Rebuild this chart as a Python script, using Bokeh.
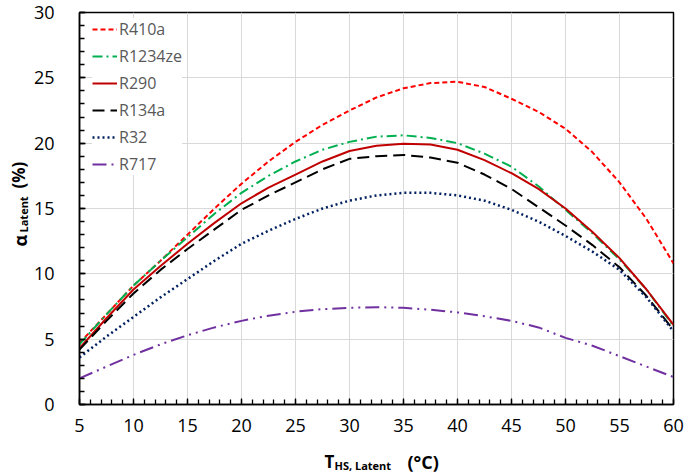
import math
from bokeh.plotting import figure
from bokeh.layouts import row, column
from bokeh.models import Label, Legend, LegendItem, FixedTicker, ColumnDataSource, Range1d
from bokeh.embed import file_html
from bokeh.resources import INLINE

T = [5, 7.5, 10, 12.5, 15, 17.5, 20, 22.5, 25, 27.5, 30, 32.5, 35, 37.5, 40,
     42.5, 45, 47.5, 50, 52.5, 55, 57.5, 60]

R410a = [4.7, 6.9, 9.1, 11.0, 13.0, 15.0, 16.9, 18.6, 20.1, 21.4, 22.5, 23.5, 24.2,
         24.6, 24.7, 24.3, 23.4, 22.4, 21.1, 19.3, 17.0, 14.2, 10.8]
R1234ze = [4.6, 6.9, 9.1, 11.0, 12.8, 14.6, 16.2, 17.5, 18.6, 19.5, 20.1, 20.5, 20.6,
           20.4, 20.0, 19.2, 18.2, 16.7, 14.9, 13.1, 11.1, 8.8, 6.0]
R290 = [4.3, 6.6, 8.8, 10.6, 12.3, 13.9, 15.4, 16.6, 17.6, 18.6, 19.4, 19.8, 19.95,
        19.9, 19.5, 18.7, 17.7, 16.5, 15.0, 13.2, 11.2, 8.8, 6.1]
R134a = [4.2, 6.4, 8.5, 10.3, 11.9, 13.4, 14.9, 16.0, 17.0, 18.0, 18.8, 19.0, 19.1,
         18.9, 18.5, 17.6, 16.5, 15.1, 13.7, 12.2, 10.5, 8.3, 5.7]
R32 = [3.6, 5.2, 6.7, 8.2, 9.6, 11.0, 12.3, 13.3, 14.2, 15.0, 15.6, 16.0, 16.2,
       16.2, 16.0, 15.6, 14.9, 14.0, 12.9, 11.7, 10.3, 8.2, 5.6]
R717 = [2.0, 2.9, 3.8, 4.6, 5.3, 5.9, 6.4, 6.8, 7.1, 7.3, 7.4, 7.45, 7.4,
        7.25, 7.05, 6.75, 6.4, 5.9, 5.1, 4.5, 3.7, 2.9, 2.1]

names = ["R410a", "R1234ze", "R290", "R134a", "R32", "R717"]
series = [R410a, R1234ze, R290, R134a, R32, R717]
colors = ["#FF0000", "#00B050", "#C00000", "#000000", "#002060", "#7030A0"]
dashes = ["5 3", "10 4 2 4", "solid", "12 6", "2 3", "14 5 2 5 2 5"]
widths = [2, 2, 2, 2, 2.5, 2]

x_ticks = [5, 10, 15, 20, 25, 30, 35, 40, 45, 50, 55, 60]
y_ticks = [0, 5, 10, 15, 20, 25, 30]

FONT = "Open Sans"

LEFT_W = 30
MAIN_H = 443
TOP = 12
FRAME_BOTTOM = 404  # page y of the plot frame's bottom edge

p = figure(width=685 - LEFT_W, height=MAIN_H, x_range=(5, 60), y_range=(0, 30),
           output_backend="svg", toolbar_location=None,
           min_border_left=74 - LEFT_W, min_border_right=12, min_border_top=TOP,
           min_border_bottom=MAIN_H - FRAME_BOTTOM)
p.background_fill_color = "white"
p.border_fill_color = "white"
p.outline_line_color = "#000000"
p.outline_line_width = 1.5

for ax, ticks in ((p.xaxis[0], x_ticks), (p.yaxis[0], y_ticks)):
    ax.ticker = FixedTicker(ticks=ticks, minor_ticks=list(range(0, 61)))
    ax.axis_line_color = "#000000"
    ax.axis_line_width = 1.5
    ax.major_tick_in = 6
    ax.major_tick_out = 0
    ax.minor_tick_in = 5
    ax.minor_tick_out = 0
    ax.major_tick_line_color = "#000000"
    ax.minor_tick_line_color = "#000000"
    ax.major_tick_line_width = 1.3
    ax.minor_tick_line_width = 1.3
    ax.major_label_text_font = FONT
    ax.major_label_text_font_size = "18px"
    ax.major_label_text_color = "#000000"
p.xaxis[0].major_label_standoff = 14
p.yaxis[0].major_label_standoff = 25

p.xgrid.ticker = FixedTicker(ticks=x_ticks)
p.ygrid.ticker = FixedTicker(ticks=y_ticks)
p.xgrid.grid_line_color = "#D9D9D9"
p.ygrid.grid_line_color = "#D9D9D9"

items = []
for n, s, c, d, w in zip(names, series, colors, dashes, widths):
    src = ColumnDataSource(dict(x=T, y=s))
    r = p.line("x", "y", source=src, line_color=c, line_dash=d, line_width=w)
    items.append(LegendItem(label=n, renderers=[r]))

legend = Legend(items=items, location=(13, 229), orientation="vertical",
                background_fill_color="white", background_fill_alpha=1.0,
                border_line_color=None, padding=2, margin=0, spacing=5,
                glyph_width=25, glyph_height=20, label_height=20, label_standoff=2,
                label_text_font=FONT, label_text_font_size="16px",
                label_text_color="#595959")
p.add_layout(legend, "center")


def blank(w, h, top=0, bottom=0):
    f = figure(width=w, height=h, x_range=Range1d(0, 1), y_range=Range1d(0, 1),
               output_backend="svg", toolbar_location=None,
               x_axis_type=None, y_axis_type=None,
               min_border=0, min_border_left=0, min_border_right=0,
               min_border_top=top, min_border_bottom=bottom)
    f.outline_line_color = None
    f.grid.visible = False
    f.background_fill_color = "white"
    f.border_fill_color = "white"
    return f


def lab(fig, text, x, y, size, angle=0.0):
    fig.add_layout(Label(x=x, y=y, x_units="screen", y_units="screen", text=text,
                         text_font=FONT, text_font_size=size, text_font_style="bold",
                         text_color="#000000", text_baseline="alphabetic",
                         text_align="left", angle=angle))


# y-axis title (left strip; same vertical borders as the main plot)
ly = blank(LEFT_W, MAIN_H, top=TOP, bottom=MAIN_H - FRAME_BOTTOM)
lab(ly, "α", 19, FRAME_BOTTOM - 246, "18px", math.pi / 2)
lab(ly, "Latent", 23, FRAME_BOTTOM - 232, "11px", math.pi / 2)
lab(ly, "(%)", 18, FRAME_BOTTOM - 188, "17px", math.pi / 2)

# x-axis title (bottom strip)
BOT_H = 474 - MAIN_H
bx = blank(685, BOT_H)
lab(bx, "T", 324, 474 - 461, "17px")
lab(bx, "HS, Latent", 334, 474 - 465, "11px")
lab(bx, "(°C)", 407, 474 - 461, "18px")

layout = column(row(ly, p, spacing=0), bx, spacing=0)

open("out.html", "w").write(file_html(layout, INLINE))
